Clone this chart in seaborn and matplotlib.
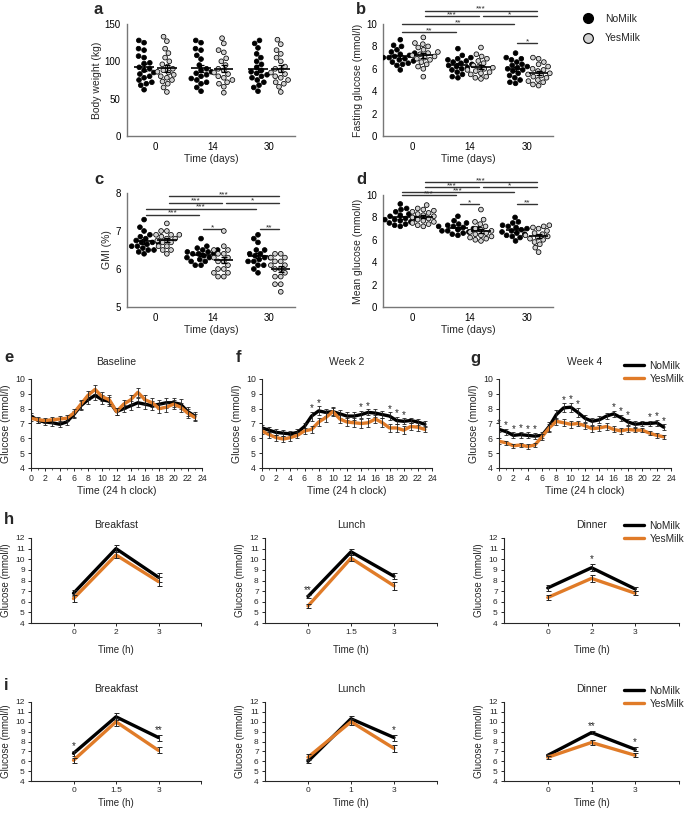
import numpy as np
import pandas as pd
import seaborn as sns
import matplotlib.pyplot as plt
from matplotlib.lines import Line2D

sns.set_style('white')
plt.rcParams['font.family'] = ['Liberation Sans', 'DejaVu Sans']
plt.rcParams['axes.linewidth'] = 0.9

# ---------------- data ----------------
days = ['0', '14', '30']
groups = ['NoMilk', 'YesMilk']

# a: body weight (kg), one list per day
bw_nomilk = [[128, 125, 117, 115, 107, 105, 98, 97, 92, 90, 88, 85, 83, 80, 78, 75, 72, 70, 68, 62],
             [128, 125, 117, 115, 108, 103, 95, 90, 88, 86, 84, 82, 80, 77, 75, 72, 70, 65, 60],
             [128, 124, 118, 110, 105, 100, 96, 92, 88, 86, 84, 82, 80, 78, 75, 72, 68, 65, 60]]
bw_yesmilk = [[133, 127, 117, 111, 105, 100, 96, 93, 90, 88, 86, 85, 82, 80, 78, 75, 73, 70, 65, 59],
              [131, 124, 115, 112, 104, 100, 95, 90, 88, 85, 83, 80, 78, 75, 72, 70, 66, 58],
              [129, 123, 115, 110, 105, 100, 93, 90, 88, 85, 83, 80, 78, 75, 72, 70, 66, 59]]

# b: fasting glucose (mmol/l)
fg_nomilk = [[8.6, 8.1, 8.0, 7.7, 7.5, 7.4, 7.3, 7.2, 7.1, 7.0, 7.0, 6.9, 6.8, 6.7, 6.6, 6.5, 6.4, 6.3, 5.9],
             [7.8, 7.2, 7.0, 6.9, 6.8, 6.7, 6.6, 6.5, 6.4, 6.3, 6.2, 6.1, 6.0, 5.9, 5.7, 5.5, 5.3, 5.2],
             [7.4, 7.0, 6.9, 6.8, 6.6, 6.4, 6.3, 6.2, 6.1, 6.0, 5.9, 5.8, 5.6, 5.4, 5.2, 5.0, 4.8, 4.7]]
fg_yesmilk = [[8.8, 8.3, 8.2, 8.0, 7.9, 7.7, 7.5, 7.4, 7.3, 7.2, 7.1, 7.0, 6.9, 6.8, 6.6, 6.4, 6.2, 6.0, 5.3],
              [7.9, 7.3, 7.1, 6.9, 6.7, 6.5, 6.3, 6.2, 6.1, 6.0, 5.9, 5.8, 5.7, 5.6, 5.5, 5.3, 5.2, 5.1],
              [7.0, 6.9, 6.6, 6.4, 6.2, 6.0, 5.9, 5.8, 5.6, 5.5, 5.4, 5.3, 5.2, 5.0, 4.9, 4.8, 4.6, 4.5]]

# c: GMI (%)
gmi_nomilk = [[7.3, 7.1, 7.0, 6.9, 6.85, 6.8, 6.75, 6.7, 6.7, 6.65, 6.6, 6.6, 6.55, 6.5, 6.5, 6.45, 6.4, 6.7],
              [6.8, 6.6, 6.55, 6.5, 6.5, 6.45, 6.4, 6.4, 6.35, 6.3, 6.3, 6.25, 6.2, 6.2, 6.1, 6.1, 6.4, 6.45],
              [6.9, 6.8, 6.7, 6.5, 6.4, 6.35, 6.3, 6.3, 6.25, 6.2, 6.2, 6.1, 6.1, 6.0, 5.9, 6.5, 6.4]]
gmi_yesmilk = [[7.2, 7.0, 7.0, 6.9, 6.9, 6.85, 6.8, 6.8, 6.75, 6.7, 6.7, 6.6, 6.6, 6.5, 6.5, 6.4, 6.9],
               [7.0, 6.6, 6.5, 6.5, 6.4, 6.3, 6.3, 6.2, 6.2, 6.1, 6.0, 6.0, 5.9, 5.9, 5.8, 5.8, 6.4],
               [6.4, 6.4, 6.3, 6.3, 6.2, 6.1, 6.1, 6.0, 6.0, 5.9, 5.8, 5.8, 5.6, 5.6, 5.4, 6.2]]

# d: mean glucose (mmol/l)
mg_nomilk = [[9.2, 8.8, 8.7, 8.5, 8.3, 8.2, 8.1, 8.0, 7.9, 7.9, 7.8, 7.8, 7.7, 7.6, 7.5, 7.4, 7.3, 7.2],
             [8.1, 7.7, 7.5, 7.4, 7.3, 7.2, 7.1, 7.0, 7.0, 6.9, 6.8, 6.8, 6.7, 6.6, 6.5, 6.4, 7.2],
             [8.0, 7.6, 7.5, 7.3, 7.2, 7.1, 7.0, 6.9, 6.8, 6.7, 6.6, 6.5, 6.4, 6.3, 6.2, 5.9]]
mg_yesmilk = [[9.1, 8.8, 8.7, 8.6, 8.5, 8.4, 8.3, 8.2, 8.1, 8.0, 7.9, 7.8, 7.7, 7.6, 7.5, 7.4, 7.3, 7.2],
              [8.7, 7.8, 7.6, 7.4, 7.2, 7.0, 6.9, 6.8, 6.7, 6.6, 6.5, 6.4, 6.3, 6.2, 6.1, 6.0, 5.9],
              [7.3, 7.2, 7.1, 7.0, 6.8, 6.6, 6.5, 6.4, 6.3, 6.2, 6.1, 6.0, 5.8, 5.6, 5.3, 4.9]]

# significance brackets: (day1, group1, day2, group2, height, label)
b_sig = [('0', 'YesMilk', '30', 'YesMilk', 11.2, '***'), ('0', 'YesMilk', '14', 'YesMilk', 10.7, '***'),
         ('14', 'YesMilk', '30', 'YesMilk', 10.7, '*'), ('0', 'NoMilk', '30', 'NoMilk', 10.0, '**'),
         ('0', 'NoMilk', '14', 'NoMilk', 9.3, '**'), ('30', 'NoMilk', '30', 'YesMilk', 8.3, '*')]
c_sig = [('0', 'YesMilk', '30', 'YesMilk', 7.91, '***'), ('0', 'YesMilk', '14', 'YesMilk', 7.75, '***'),
         ('14', 'YesMilk', '30', 'YesMilk', 7.75, '*'), ('0', 'NoMilk', '30', 'NoMilk', 7.59, '***'),
         ('0', 'NoMilk', '14', 'NoMilk', 7.43, '***'), ('14', 'NoMilk', '14', 'YesMilk', 7.05, '*'),
         ('30', 'NoMilk', '30', 'YesMilk', 7.05, '**')]
d_sig = [('0', 'YesMilk', '30', 'YesMilk', 11.16, '***'), ('0', 'YesMilk', '14', 'YesMilk', 10.7, '***'),
         ('14', 'YesMilk', '30', 'YesMilk', 10.7, '*'), ('0', 'NoMilk', '30', 'NoMilk', 10.27, '***'),
         ('0', 'NoMilk', '14', 'NoMilk', 10.0, '***'), ('14', 'NoMilk', '14', 'YesMilk', 9.2, '*'),
         ('30', 'NoMilk', '30', 'YesMilk', 9.2, '**')]

# e-g: hourly glucose (mmol/l)
hours = list(range(24))
base_no = [7.5, 7.2, 7.1, 7.05, 6.95, 7.1, 7.6, 8.2, 8.6, 8.9, 8.6, 8.5, 7.8, 8.0, 8.2, 8.4, 8.3, 8.2, 8.3, 8.4, 8.4, 8.3, 7.8, 7.5]
base_no_sem = [0.2, 0.2, 0.2, 0.2, 0.2, 0.2, 0.25, 0.3, 0.3, 0.3, 0.3, 0.3, 0.25, 0.25, 0.3, 0.3, 0.3, 0.3, 0.3, 0.35, 0.3, 0.35, 0.3, 0.25]
base_yes = [7.35, 7.25, 7.2, 7.25, 7.3, 7.35, 7.7, 8.3, 8.9, 9.3, 8.8, 8.6, 7.8, 8.3, 8.6, 9.1, 8.6, 8.4, 8.0, 8.1, 8.3, 8.1, 7.7, 7.4]
base_yes_sem = [0.2, 0.2, 0.2, 0.2, 0.2, 0.2, 0.25, 0.3, 0.3, 0.3, 0.3, 0.3, 0.25, 0.3, 0.3, 0.3, 0.3, 0.3, 0.3, 0.3, 0.3, 0.3, 0.3, 0.25]
wk2_no = [6.7, 6.55, 6.4, 6.35, 6.3, 6.4, 6.8, 7.5, 7.85, 7.75, 7.8, 7.65, 7.5, 7.5, 7.6, 7.75, 7.7, 7.6, 7.5, 7.2, 7.15, 7.2, 7.1, 6.95]
wk2_no_sem = [0.2, 0.2, 0.2, 0.2, 0.2, 0.2, 0.25, 0.3, 0.3, 0.25, 0.25, 0.25, 0.25, 0.25, 0.25, 0.2, 0.25, 0.25, 0.25, 0.25, 0.2, 0.2, 0.2, 0.2]
wk2_yes = [6.5, 6.25, 6.05, 5.95, 6.05, 6.2, 6.5, 6.6, 7.1, 7.4, 7.8, 7.3, 7.1, 7.05, 7.0, 7.05, 7.3, 7.05, 6.7, 6.7, 6.55, 6.8, 6.75, 6.6]
wk2_yes_sem = [0.2, 0.2, 0.2, 0.2, 0.2, 0.2, 0.2, 0.25, 0.3, 0.3, 0.3, 0.3, 0.3, 0.3, 0.3, 0.3, 0.3, 0.3, 0.25, 0.25, 0.25, 0.25, 0.25, 0.2]
wk2_stars = [7, 8, 14, 15, 18, 19, 20]
wk4_no = [6.6, 6.45, 6.2, 6.25, 6.2, 6.15, 6.2, 6.8, 7.6, 8.05, 8.1, 7.75, 7.35, 7.15, 7.25, 7.5, 7.65, 7.4, 7.1, 6.95, 7.0, 7.0, 7.05, 6.75]
wk4_no_sem = [0.2, 0.2, 0.2, 0.2, 0.2, 0.2, 0.2, 0.3, 0.3, 0.3, 0.3, 0.3, 0.25, 0.25, 0.25, 0.2, 0.2, 0.2, 0.2, 0.2, 0.2, 0.2, 0.2, 0.2]
wk4_yes = [5.8, 5.7, 5.5, 5.55, 5.45, 5.55, 6.1, 6.7, 7.15, 7.05, 6.95, 7.0, 6.85, 6.65, 6.7, 6.8, 6.6, 6.5, 6.6, 6.55, 6.55, 6.35, 6.2, 6.1]
wk4_yes_sem = [0.2, 0.15, 0.15, 0.15, 0.15, 0.15, 0.2, 0.25, 0.25, 0.25, 0.25, 0.2, 0.2, 0.2, 0.2, 0.25, 0.2, 0.2, 0.2, 0.15, 0.15, 0.15, 0.15, 0.15]
wk4_stars = [0, 1, 2, 3, 4, 5, 9, 10, 11, 16, 17, 18, 21, 22, 23]

# h/i: postprandial glucose (mmol/l)
meals = ['Breakfast', 'Lunch', 'Dinner']
h_ticks = [['0', '2', '3'], ['0', '1.5', '3'], ['0', '2', '3']]
h_no = [[6.8, 11.0, 8.3], [6.5, 10.7, 8.4], [7.3, 9.2, 7.2]]
h_no_sem = [[0.3, 0.3, 0.4], [0.15, 0.3, 0.3], [0.25, 0.35, 0.15]]
h_yes = [[6.3, 10.4, 7.9], [5.6, 10.1, 7.5], [6.4, 8.2, 6.8]]
h_yes_sem = [[0.3, 0.3, 0.4], [0.2, 0.3, 0.4], [0.25, 0.3, 0.2]]
h_stars = [{}, {0: '**'}, {1: '*'}]
i_ticks = [['0', '1.5', '3'], ['0', '1', '3'], ['0', '1', '3']]
i_no = [[6.8, 10.5, 8.4], [6.0, 10.3, 8.4], [6.6, 8.9, 7.2]]
i_no_sem = [[0.25, 0.35, 0.3], [0.2, 0.3, 0.3], [0.15, 0.15, 0.2]]
i_yes = [[6.1, 10.0, 7.1], [6.4, 10.0, 7.3], [6.4, 7.9, 6.6]]
i_yes_sem = [[0.25, 0.4, 0.3], [0.3, 0.3, 0.35], [0.15, 0.3, 0.2]]
i_stars = [{0: '*', 2: '**'}, {2: '*'}, {1: '**', 2: '*'}]

# ---------------- figure ----------------
W, H = 685, 816
ORANGE = '#E07B28'
GREY = '#d2d2d2'
fig = plt.figure(figsize=(W / 100, H / 100), dpi=100)


def box(l, t, r, b):
    return fig.add_axes([l / W, 1 - b / H, (r - l) / W, (b - t) / H])


def letter(x, y, s):
    fig.text(x / W, 1 - y / H, s, fontsize=12, fontweight='bold', ha='left', va='center')


def xpos(day, grp):
    return days.index(day) + (groups.index(grp) - 0.5) * 0.4


def scatter_panel(ax, no, yes, ylim, yticks, ylabel, sig=()):
    rows = []
    for d, vals in zip(days, no):
        rows += [(d, 'NoMilk', v) for v in vals]
    for d, vals in zip(days, yes):
        rows += [(d, 'YesMilk', v) for v in vals]
    df = pd.DataFrame(rows, columns=['day', 'group', 'value'])
    sns.swarmplot(data=df, x='day', y='value', hue='group', order=days, hue_order=groups,
                  dodge=True, palette={'NoMilk': 'black', 'YesMilk': GREY}, size=3.4,
                  edgecolor='black', linewidth=0.55, legend=False, warn_thresh=1, ax=ax)
    stats = df.groupby(['day', 'group'])['value'].agg(['mean', 'sem'])
    for d in days:
        for g in groups:
            x = xpos(d, g)
            m, s = stats.loc[(d, g)]
            ax.hlines(m, x - 0.17, x + 0.17, color='black', lw=1.2, zorder=5)
            ax.errorbar(x, m, yerr=s, color='black', capsize=2.5, elinewidth=0.9,
                        capthick=0.9, zorder=5)
    for d1, g1, d2, g2, y, lab in sig:
        x1, x2 = xpos(d1, g1) + 0.03, xpos(d2, g2) - 0.03
        ax.plot([x1, x2], [y, y], color='#333333', lw=1.0, clip_on=False)
        ax.annotate(lab, ((x1 + x2) / 2, y), xytext=(0, -1.5), textcoords='offset points',
                    ha='center', va='bottom', fontsize=6, annotation_clip=False)
    ax.set_xlim(-0.5, 2.45)
    ax.set_ylim(*ylim)
    ax.set_yticks(yticks)
    ax.set_xlabel('Time (days)', fontsize=7.5, labelpad=2)
    ax.set_ylabel(ylabel, fontsize=7.5, labelpad=2)
    ax.tick_params(axis='both', labelsize=7, length=2.5, width=0.8, pad=2, colors='#555555',
                   labelcolor='black')
    ax.tick_params(axis='x', length=0, pad=4)
    sns.despine(ax=ax)
    for sp in ['left', 'bottom']:
        ax.spines[sp].set_color('#777777')
        ax.spines[sp].set_linewidth(1.0)


def hourly_panel(ax, no, no_sem, yes, yes_sem, title, stars=()):
    sns.lineplot(x=hours, y=no, color='black', lw=2.4, ax=ax, zorder=3)
    ax.errorbar(hours, no, yerr=no_sem, fmt='none', ecolor='#222222', elinewidth=0.6,
                capsize=1.5, capthick=0.6, zorder=3)
    sns.lineplot(x=hours, y=yes, color=ORANGE, lw=2.4, ax=ax, zorder=4)
    ax.errorbar(hours, yes, yerr=yes_sem, fmt='none', ecolor='#222222', elinewidth=0.6,
                capsize=1.5, capthick=0.6, zorder=4)
    for hr in stars:
        ax.annotate('*', (hr, no[hr] + no_sem[hr]), xytext=(0, -1), textcoords='offset points',
                    ha='center', va='bottom', fontsize=7, annotation_clip=False)
    ax.set_xlim(0, 24)
    ax.set_ylim(4, 10)
    ax.set_xticks(range(0, 25, 2))
    ax.set_xticks(range(0, 25), minor=True)
    ax.set_yticks(range(4, 11))
    ax.set_title(title, fontsize=7.5, pad=10)
    ax.set_xlabel('Time (24 h clock)', fontsize=7.5, labelpad=2)
    ax.set_ylabel('Glucose (mmol/l)', fontsize=7.5, labelpad=3)
    ax.tick_params(axis='both', which='major', labelsize=6.3, length=2.5, width=0.7, pad=2,
                   bottom=True, left=True)
    ax.tick_params(axis='x', which='minor', length=1.5, width=0.5, bottom=True)
    sns.despine(ax=ax)
    for sp in ['left', 'bottom']:
        ax.spines[sp].set_linewidth(0.8)


def meal_panel(ax, ticks, no, no_sem, yes, yes_sem, title, stars, xlabelpad):
    pos = np.arange(len(ticks))
    sns.lineplot(x=pos, y=no, color='black', lw=2.4, ax=ax, zorder=3)
    ax.errorbar(pos, no, yerr=no_sem, fmt='none', ecolor='#222222', elinewidth=0.7,
                capsize=1.8, capthick=0.7, zorder=3)
    sns.lineplot(x=pos, y=yes, color=ORANGE, lw=2.4, ax=ax, zorder=4)
    ax.errorbar(pos, yes, yerr=yes_sem, fmt='none', ecolor='#222222', elinewidth=0.7,
                capsize=1.8, capthick=0.7, zorder=4)
    for k, lab in stars.items():
        ax.annotate(lab, (pos[k], no[k] + no_sem[k]), xytext=(0, 0), textcoords='offset points',
                    ha='center', va='bottom', fontsize=7, annotation_clip=False)
    ax.set_xlim(-1, 3)
    ax.set_ylim(4, 12)
    ax.set_xticks(pos)
    ax.set_xticklabels(ticks)
    ax.set_xticks([3], minor=True)
    ax.set_yticks(range(4, 13))
    ax.set_title(title, fontsize=7.5, pad=7)
    ax.set_xlabel('Time (h)', fontsize=7, labelpad=xlabelpad)
    ax.set_ylabel('Glucose (mmol/l)', fontsize=7, labelpad=3)
    ax.tick_params(axis='both', which='both', labelsize=6, length=2.5, width=0.7, pad=2,
                   bottom=True, left=True)
    sns.despine(ax=ax)
    for sp in ['left', 'bottom']:
        ax.spines[sp].set_linewidth(0.8)


# a-d
ax_a = box(127, 24, 295, 136)
scatter_panel(ax_a, bw_nomilk, bw_yesmilk, (0, 150), [0, 50, 100, 150], 'Body weight (kg)')
ax_b = box(383, 24, 553, 136)
scatter_panel(ax_b, fg_nomilk, fg_yesmilk, (0, 10), range(0, 11, 2), 'Fasting glucose (mmol/l)', b_sig)
ax_c = box(127, 193, 295, 307)
scatter_panel(ax_c, gmi_nomilk, gmi_yesmilk, (5, 8), [5, 6, 7, 8], 'GMI (%)', c_sig)
ax_d = box(383, 195, 553, 307)
scatter_panel(ax_d, mg_nomilk, mg_yesmilk, (0, 10), range(0, 11, 2), 'Mean glucose (mmol/l)', d_sig)

dot_handles = [Line2D([], [], ls='none', marker='o', ms=7, mfc='black', mec='black'),
               Line2D([], [], ls='none', marker='o', ms=7, mfc=GREY, mec='black', mew=0.8)]
fig.legend(dot_handles, groups, loc='upper left', bbox_to_anchor=(578 / W, 1 - 14 / H),
           frameon=False, fontsize=7.5, handletextpad=0.6, labelspacing=0.9,
           borderpad=0, borderaxespad=0)

# e-g
ax_e = box(31, 379, 202, 468)
hourly_panel(ax_e, base_no, base_no_sem, base_yes, base_yes_sem, 'Baseline')
ax_f = box(262, 379, 432, 468)
hourly_panel(ax_f, wk2_no, wk2_no_sem, wk2_yes, wk2_yes_sem, 'Week 2', wk2_stars)
ax_g = box(499, 379, 671, 468)
hourly_panel(ax_g, wk4_no, wk4_no_sem, wk4_yes, wk4_yes_sem, 'Week 4', wk4_stars)

line_handles = [Line2D([], [], color='black', lw=2.4), Line2D([], [], color=ORANGE, lw=2.4)]


def line_legend(y):
    fig.legend(line_handles, groups, loc='upper left', bbox_to_anchor=(624 / W, 1 - y / H),
               frameon=False, fontsize=7.3, handlelength=2.0, handletextpad=0.5,
               labelspacing=0.3, borderpad=0, borderaxespad=0)


line_legend(361)

# h, i
lefts = [(31, 201), (265, 437), (504, 679)]
for k, (l, r) in enumerate(lefts):
    meal_panel(box(l, 538, r, 623), h_ticks[k], h_no[k], h_no_sem[k], h_yes[k], h_yes_sem[k],
               meals[k], h_stars[k], 6)
    meal_panel(box(l, 702, r, 781), i_ticks[k], i_no[k], i_no_sem[k], i_yes[k], i_yes_sem[k],
               meals[k], i_stars[k], 3)
line_legend(521)
line_legend(686)

for s, x, y in [('a', 94, 10), ('b', 356, 10), ('c', 94, 179), ('d', 356, 179),
                ('e', 4, 358), ('f', 236, 358), ('g', 470, 358), ('h', 4, 519), ('i', 4, 685)]:
    letter(x, y, s)

fig.savefig('out.png', dpi=100)
